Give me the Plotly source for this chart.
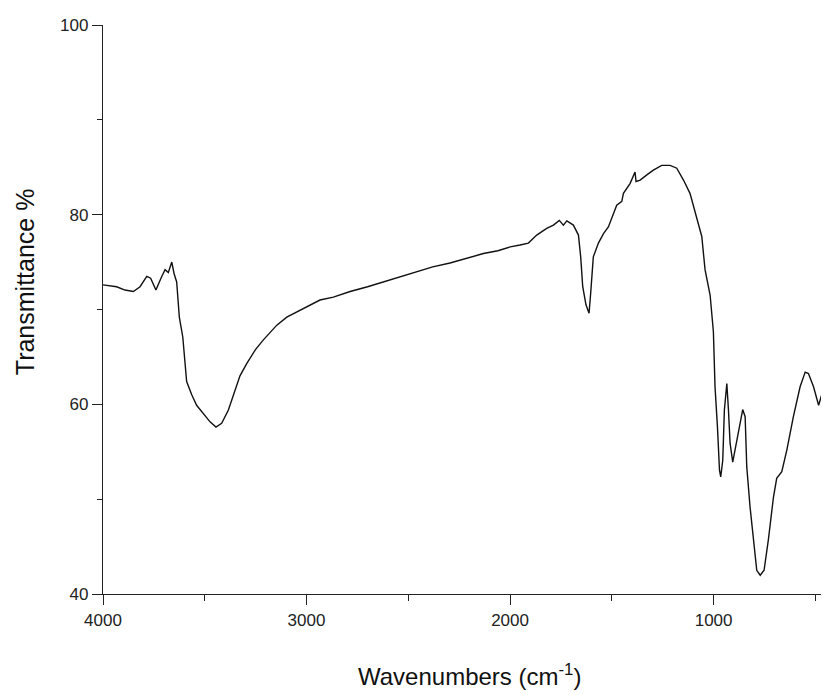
import plotly.graph_objects as go

wavenumber = [4000, 3970, 3933, 3892, 3851, 3818, 3785, 3766, 3740, 3712, 3695, 3679, 3662, 3651,
              3638, 3625, 3608, 3589, 3564, 3540, 3507, 3474, 3445, 3417, 3384, 3360, 3327, 3294,
              3250, 3212, 3146, 3097, 3032, 2934, 2868, 2786, 2700, 2623, 2540, 2459, 2380, 2295,
              2210, 2131, 2060, 1999, 1951, 1910, 1869, 1820, 1787, 1758, 1738, 1721, 1689, 1664,
              1653, 1643, 1627, 1612, 1604, 1591, 1566, 1541, 1517, 1492, 1476, 1451, 1443, 1410,
              1386, 1381, 1361, 1328, 1296, 1255, 1214, 1181, 1148, 1116, 1083, 1058, 1042, 1017,
              1001, 993, 981, 971, 965, 955, 947, 935, 927, 919, 906, 886, 870, 857, 845, 837,
              821, 804, 788, 771, 752, 731, 706, 690, 665, 640, 608, 575, 550, 534, 509, 484,
              467, 451, 434]
transmittance = [72.6, 72.5, 72.4, 72.05, 71.9, 72.4, 73.5, 73.3, 72.05, 73.45, 74.2, 73.9, 75.0, 73.8,
                 72.9, 69.2, 67.1, 62.4, 61.0, 59.9, 59.0, 58.15, 57.6, 58.0, 59.4, 61.0, 63.0, 64.3,
                 65.8, 66.8, 68.35, 69.2, 69.9, 71.0, 71.3, 71.9, 72.4, 72.9, 73.5, 74.0, 74.5, 74.9,
                 75.4, 75.9, 76.2, 76.6, 76.8, 77.0, 77.85, 78.55, 78.9, 79.4, 78.9, 79.35, 78.9, 77.85,
                 75.55, 72.4, 70.5, 69.6, 71.7, 75.55, 77.0, 78.0, 78.7, 80.1, 81.0, 81.4, 82.25, 83.3,
                 84.5, 83.5, 83.65, 84.2, 84.7, 85.2, 85.2, 84.9, 83.65, 82.25, 79.8, 77.7, 74.2, 71.5,
                 67.65, 61.85, 57.6, 53.05, 52.35, 54.1, 59.4, 62.2, 59.4, 55.9, 53.9, 56.2, 58.3, 59.45, 58.7, 53.4,
                 49.2, 46.0, 42.5, 41.98, 42.5, 45.7, 50.2, 52.2, 52.9, 55.2, 58.7, 61.85, 63.4, 63.25, 61.85, 59.9,
                 61.15, 61.3, 61.15]

x_ticks = [4000, 3000, 2000, 1000]
y_ticks = [40, 60, 80, 100]

font_main = "Liberation Sans, Arial, sans-serif"

fig = go.Figure()
fig.add_trace(go.Scatter(x=wavenumber, y=transmittance, mode="lines",
                         line=dict(color="#111111", width=1.4), showlegend=False))

fig.update_layout(
    width=821, height=687,
    margin=dict(l=95, r=0, t=17, b=101),
    paper_bgcolor="white", plot_bgcolor="white",
    font=dict(family=font_main, color="#222222"),
    xaxis=dict(range=[4000, 433], tickvals=x_ticks, ticktext=[str(v) for v in x_ticks],
               showgrid=False, zeroline=False, showline=True, linecolor="#222222", linewidth=1.3,
               ticks="outside", ticklen=10, tickwidth=1.3, tickcolor="#222222",
               tickfont=dict(size=17, family=font_main),
               minor=dict(dtick=500, tick0=0, ticks="outside", ticklen=6, tickwidth=1.3,
                          tickcolor="#222222", showgrid=False)),
    yaxis=dict(range=[40, 100], tickvals=y_ticks, ticktext=[str(v) for v in y_ticks],
               showgrid=False, zeroline=False, showline=True, linecolor="#222222", linewidth=1.3,
               ticks="outside", ticklen=10, tickwidth=1.3, tickcolor="#222222",
               tickfont=dict(size=17, family=font_main),
               minor=dict(dtick=10, tick0=0, ticks="outside", ticklen=5, tickwidth=1.3,
                          tickcolor="#222222", showgrid=False)),
    annotations=[
        dict(text="Transmittance %", xref="paper", yref="paper", x=-0.1074, y=0.548,
             textangle=-90, showarrow=False, xanchor="center", yanchor="middle",
             font=dict(size=25, family=font_main, color="#111111")),
        dict(text="Wavenumbers (cm<sup>-1</sup>)", xref="paper", yref="paper", x=0.5055, y=-0.1424,
             showarrow=False, xanchor="center", yanchor="middle",
             font=dict(size=24, family=font_main, color="#111111")),
    ],
)

fig.write_html("out.html")
